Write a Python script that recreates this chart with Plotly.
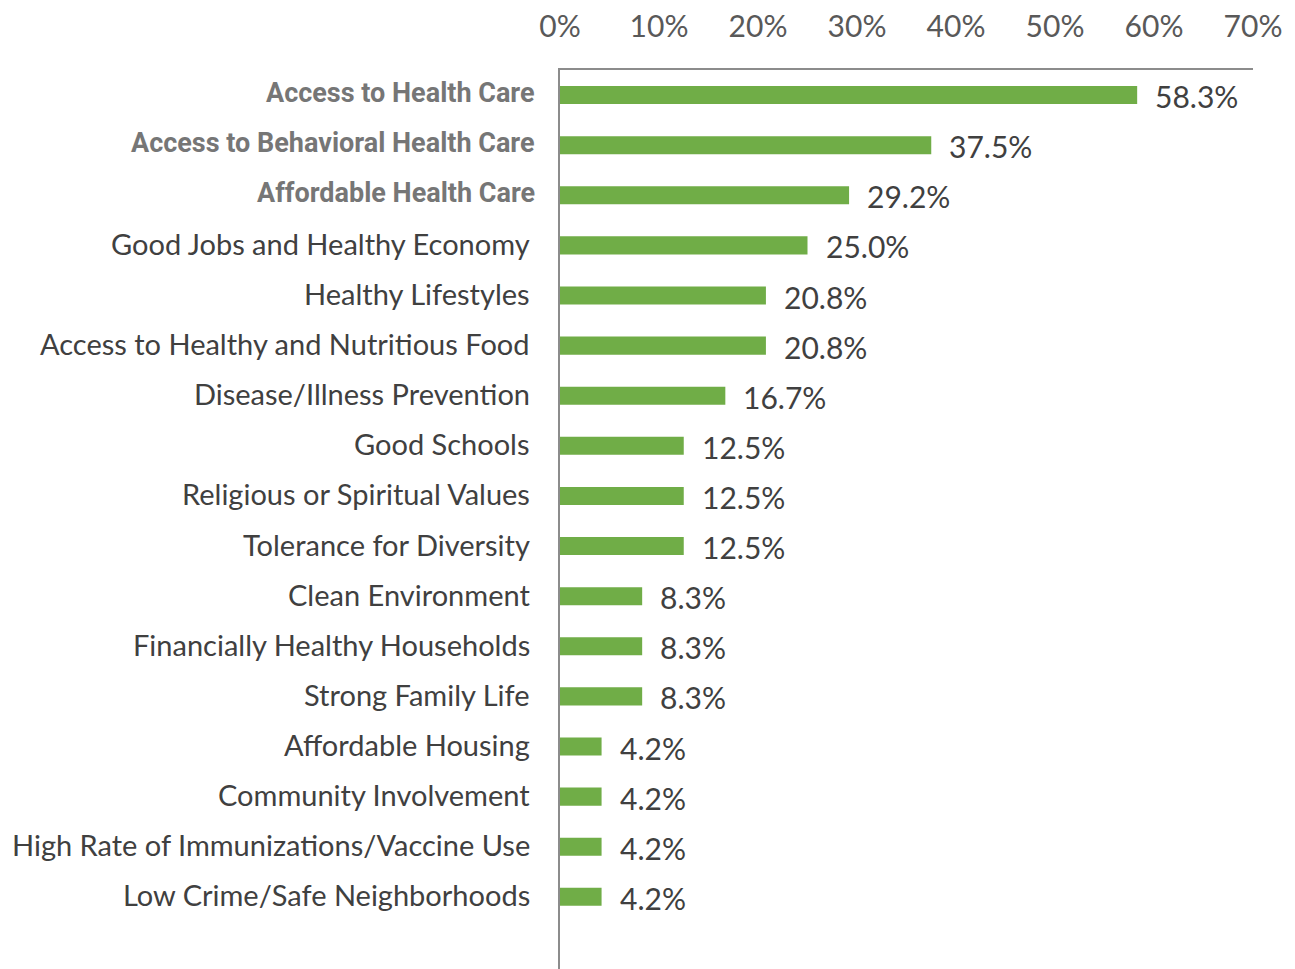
import plotly.graph_objects as go

# Community health priorities: share of respondents choosing each item
categories = [
    "Access to Health Care",
    "Access to Behavioral Health Care",
    "Affordable Health Care",
    "Good Jobs and Healthy Economy",
    "Healthy Lifestyles",
    "Access to Healthy and Nutritious Food",
    "Disease/Illness Prevention",
    "Good Schools",
    "Religious or Spiritual Values",
    "Tolerance for Diversity",
    "Clean Environment",
    "Financially Healthy Households",
    "Strong Family Life",
    "Affordable Housing",
    "Community Involvement",
    "High Rate of Immunizations/Vaccine Use",
    "Low Crime/Safe Neighborhoods",
]
values = [58.3, 37.5, 29.2, 25.0, 20.8, 20.8, 16.7, 12.5, 12.5, 12.5,
          8.3, 8.3, 8.3, 4.2, 4.2, 4.2, 4.2]
highlighted = categories[:3]  # top three shown in bold

x_ticks = [0, 10, 20, 30, 40, 50, 60, 70]
x_tick_labels = [f"{t}%" for t in x_ticks]

BAR = "#70AD47"
AXIS = "#8C8C8C"
TEXT = "#404040"
BASE_FONT = "Lato"

fig = go.Figure(go.Bar(
    x=values,
    y=categories,
    orientation="h",
    marker=dict(color=BAR, line=dict(width=0)),
    width=0.36,
    hoverinfo="skip",
))

annotations = []
# value labels at the bar ends
for c, v in zip(categories, values):
    annotations.append(dict(
        x=v, y=c, xref="x", yref="y", text=f"{v:.1f}%",
        showarrow=False, xanchor="left", yanchor="middle", xshift=16, yshift=-1,
        font=dict(family=BASE_FONT, size=30, color=TEXT),
    ))
# category labels on the left
for c in categories:
    if c in highlighted:
        font = dict(family="Roboto", size=27, color="#767676")
        text = f"<b>{c}</b>"
        shift = -23
    else:
        font = dict(family=BASE_FONT, size=29, color=TEXT)
        text = c
        shift = -28
    annotations.append(dict(
        x=0, y=c, xref="paper", yref="y", text=text,
        showarrow=False, xanchor="right", yanchor="middle", xshift=shift, yshift=2,
        font=font,
    ))

fig.update_layout(
    width=1295, height=969,
    margin=dict(l=560, r=42, t=70, b=0),
    paper_bgcolor="white", plot_bgcolor="white",
    showlegend=False,
    annotations=annotations,
    xaxis=dict(
        side="top", range=[0, 70], tickvals=x_ticks, ticktext=x_tick_labels,
        showgrid=False, zeroline=False,
        showline=True, linecolor=AXIS, linewidth=2,
        ticks="", ticklabelstandoff=19,
        tickfont=dict(family=BASE_FONT, size=30, color="#595959"),
        fixedrange=True,
    ),
    yaxis=dict(
        categoryorder="array", categoryarray=categories,
        range=[17.44, -0.5], showticklabels=False,
        showgrid=False, zeroline=False,
        showline=True, linecolor=AXIS, linewidth=2, ticks="",
        fixedrange=True,
    ),
)

fig.write_html("out.html")
